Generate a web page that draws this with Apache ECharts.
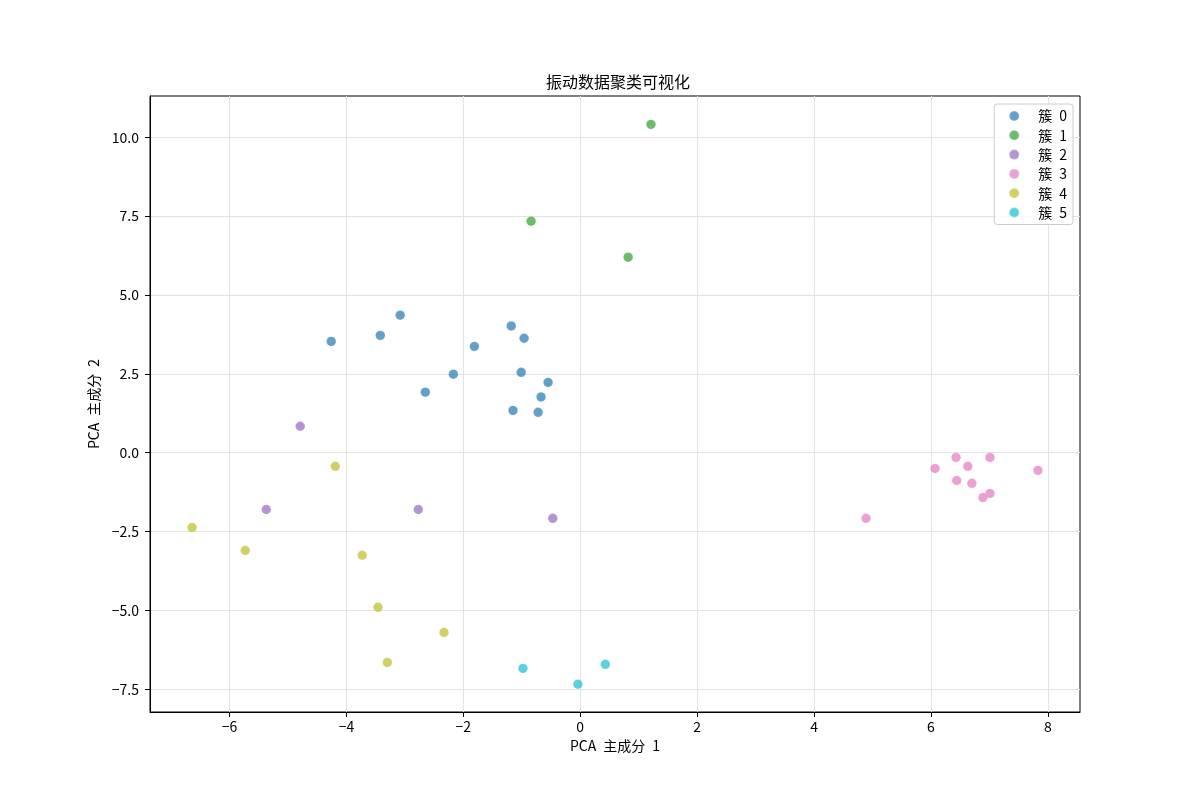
<!DOCTYPE html>
<html>
<head>
<meta charset="utf-8">
<script src="https://cdn.jsdelivr.net/npm/echarts@6/dist/echarts.min.js"></script>
<style>html,body{margin:0;padding:0;background:#fff}#c{width:1200px;height:800px}</style>
</head>
<body>
<div id="c"></div>
<script>
const titleText = '振动数据聚类可视化';
const xName = 'PCA 主成分 1';
const yName = 'PCA 主成分 2';
const clusterNames = ['簇 0', '簇 1', '簇 2', '簇 3', '簇 4', '簇 5'];
const clusterColors = ['#1f77b4', '#2ca02c', '#9467bd', '#e377c2', '#bcbd22', '#17becf'];

const cluster0 = [[-3.08, 4.36], [-4.26, 3.53], [-3.42, 3.72], [-1.18, 4.02], [-0.96, 3.63],
                  [-1.81, 3.37], [-2.17, 2.49], [-1.01, 2.55], [-0.55, 2.23], [-2.65, 1.92],
                  [-0.67, 1.77], [-1.15, 1.34], [-0.72, 1.28]];
const cluster1 = [[1.21, 10.41], [-0.84, 7.34], [0.82, 6.20]];
const cluster2 = [[-4.79, 0.84], [-5.37, -1.80], [-2.77, -1.80], [-0.47, -2.08]];
const cluster3 = [[4.89, -2.08], [6.07, -0.50], [6.43, -0.15], [7.01, -0.15], [6.63, -0.43],
                  [7.83, -0.56], [6.44, -0.88], [6.70, -0.97], [7.01, -1.29], [6.89, -1.42]];
const cluster4 = [[-4.19, -0.43], [-6.64, -2.37], [-5.73, -3.10], [-3.73, -3.25], [-3.46, -4.90],
                  [-2.33, -5.70], [-3.30, -6.65]];
const cluster5 = [[-0.98, -6.84], [-0.04, -7.34], [0.43, -6.71]];
const clusters = [cluster0, cluster1, cluster2, cluster3, cluster4, cluster5];

const xTicks = [-6, -4, -2, 0, 2, 4, 6, 8];
const yTicks = [-7.5, -5, -2.5, 0, 2.5, 5, 7.5, 10];
const xRange = [-7.36, 8.55];
const yRange = [-8.22, 11.31];

const FONT = '"Noto Sans CJK SC", "DejaVu Sans", sans-serif';
const minus = s => s.replace('-', '\u2212');
const wide = s => s.replace(/ /g, '\u2002');

const chart = echarts.init(document.getElementById('c'), null, {renderer: 'canvas'});

const axisCommon = {
  axisLine: {show: true, onZero: false, lineStyle: {color: '#000', width: 1}},
  axisTick: {show: true, inside: false, length: 5, lineStyle: {color: '#000', width: 1}},
  splitLine: {show: true, lineStyle: {color: '#e3e3e3', width: 1}},
  nameLocation: 'middle',
  nameTextStyle: {fontSize: 14, color: '#000', fontFamily: FONT}
};

chart.setOption({
  backgroundColor: '#fff',
  animation: false,
  textStyle: {fontFamily: FONT},
  title: {
    text: titleText,
    left: 541,
    top: 69,
    textStyle: {fontSize: 16, fontWeight: 'normal', color: '#000', fontFamily: FONT}
  },
  legend: {
    orient: 'vertical',
    right: 127,
    top: 104,
    icon: 'circle',
    itemWidth: 10,
    itemHeight: 10,
    itemGap: 5.3,
    padding: [5, 6, 5, 14],
    backgroundColor: 'rgba(255,255,255,0.8)',
    borderColor: '#cccccc',
    borderWidth: 1,
    borderRadius: 3,
    data: clusterNames,
    formatter: n => wide(n),
    textStyle: {fontSize: 14, lineHeight: 14, color: '#000', fontFamily: FONT, padding: [0, 0, 0, 14]}
  },
  grid: {
    left: 150, right: 120, top: 96, bottom: 88,
    show: true, borderColor: '#000', borderWidth: 1, backgroundColor: 'transparent'
  },
  xAxis: Object.assign({}, axisCommon, {
    type: 'value',
    min: xRange[0], max: xRange[1],
    name: wide(xName),
    nameGap: 27,
    axisTick: Object.assign({}, axisCommon.axisTick, {customValues: xTicks}),
    axisLabel: {customValues: xTicks, margin: 8, fontSize: 14, color: '#000', fontFamily: FONT,
                formatter: v => minus(String(v))}
  }),
  yAxis: Object.assign({}, axisCommon, {
    type: 'value',
    min: yRange[0], max: yRange[1],
    name: wide(yName),
    nameGap: 45,
    axisTick: Object.assign({}, axisCommon.axisTick, {customValues: yTicks}),
    axisLabel: {customValues: yTicks, margin: 11, fontSize: 14, color: '#000', fontFamily: FONT,
                formatter: v => minus(Number(v).toFixed(1))}
  }),
  series: clusters.map((d, i) => ({
    name: clusterNames[i],
    type: 'scatter',
    data: d,
    symbolSize: 9.5,
    itemStyle: {color: clusterColors[i], opacity: 0.7, borderColor: 'rgba(255,255,255,0.35)', borderWidth: 0.6}
  }))
});
</script>
</body>
</html>
